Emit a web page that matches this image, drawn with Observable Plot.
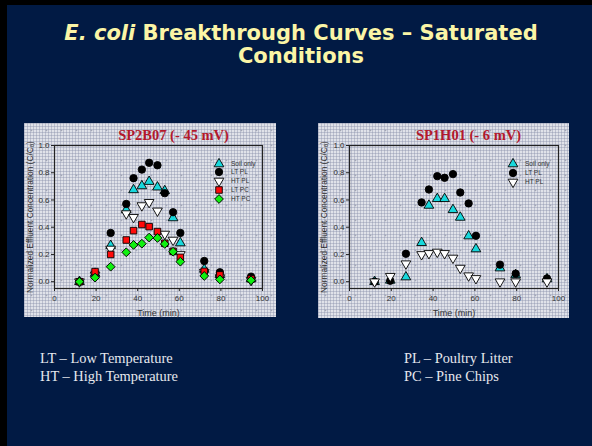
<!DOCTYPE html>
<html><head><meta charset="utf-8">
<script src="https://cdn.jsdelivr.net/npm/d3@7"></script>
<script src="https://cdn.jsdelivr.net/npm/@observablehq/plot@0.6"></script>
<style>
html,body{margin:0;padding:0;background:#000;width:592px;height:446px;overflow:hidden;position:relative;}
#slide{position:absolute;left:7px;top:5px;width:585px;height:441px;background:#011a44;}
#title{position:absolute;left:0;top:22px;width:602px;text-align:center;color:#fbf5a6;font-family:"DejaVu Sans",sans-serif;font-weight:bold;font-size:21px;line-height:23px;}
.panel{position:absolute;background:
 radial-gradient(circle, rgba(100,106,130,.5) 0.7px, transparent 1.1px) 0 0/15px 15px,
 linear-gradient(90deg, rgba(140,146,172,.42) 1px, transparent 1px) 0 0/3px 3px,
 linear-gradient(rgba(140,146,172,.42) 1px, transparent 1px) 0 0/3px 3px,
 #e0e2e9;}
.panel svg{position:absolute;left:0;top:0;overflow:visible;}
.legend{position:absolute;font-family:"Liberation Sans",Arial,sans-serif;font-size:6.5px;color:#333;}
.legend .row{position:absolute;left:0;white-space:nowrap;}
.legend svg{position:absolute;overflow:visible;}
.note{position:absolute;color:#e6e8ee;font-family:"Liberation Serif","DejaVu Serif",serif;font-size:14.4px;line-height:18px;white-space:nowrap;}
</style></head><body>
<div id="slide"></div>
<div id="title"><i>E. coli</i> Breakthrough Curves – Saturated<br>Conditions</div>
<div id="p1" class="panel" style="left:24px;top:123px;width:252px;height:194px;"></div>
<div id="p2" class="panel" style="left:318px;top:123px;width:251px;height:195px;"></div>
<div class="note" style="left:40px;top:349px;">LT – Low Temperature<br>HT – High Temperature</div>
<div class="note" style="left:404px;top:349px;">PL – Poultry Litter<br>PC – Pine Chips</div>
<script>
// ---- data ----
const time = [12, 19.5, 27, 34.5, 38, 42, 45.5, 49.5, 53, 57, 60.5, 72, 79.5, 94.5];

// SP2B07 (- 45 mV)
const soilA = [0, 0.06, 0.265, 0.527, 0.674, 0.703, 0.735, 0.694, 0.667, 0.468, 0.284, 0.09, 0.05, 0.02];
const ltplA = [0, 0.06, 0.358, 0.571, 0.76, 0.823, 0.873, 0.855, 0.65, 0.51, 0.358, 0.152, 0.069, 0.037];
const htplA = [0, 0.05, 0.24, 0.5, 0.473, 0.559, 0.583, 0.52, 0.35, 0.306, 0.2, 0.07, 0.03, 0.01];
const ltpcA = [0, 0.074, 0.2, 0.306, 0.375, 0.42, 0.404, 0.368, 0.282, 0.223, 0.179, 0.076, 0.05, 0.02];
const htpcA = [0, 0.03, 0.11, 0.216, 0.27, 0.279, 0.324, 0.321, 0.277, 0.22, 0.147, 0.042, 0.017, 0.01];

// SP1H01 (- 6 mV)
const soilB = [0, 0.01, 0.034, 0.286, 0.56, 0.609, 0.609, 0.528, 0.472, 0.335, 0.24, 0.1, 0.05, 0.02];
const ltplB = [0, 0.007, 0.205, 0.582, 0.677, 0.775, 0.763, 0.79, 0.655, 0.575, 0.337, 0.125, 0.059, 0.024];
const htplB = [0, 0.04, 0.132, 0.2, 0.208, 0.218, 0.208, 0.174, 0.1, 0.044, 0.024, 0, 0, 0];

const seriesNames = ["Soil only", "LT PL", "HT PL", "LT PC", "HT PC"];
const xTicks = [0, 20, 40, 60, 80, 100];
const yTicks = [0, 0.2, 0.4, 0.6, 0.8, 1.0];
const xLabel = "Time (min)";
const yLabel = "Normalized Effluent Concentration (C/C\u2080)";
const titleA = "SP2B07 (- 45 mV)";
const titleB = "SP1H01 (- 6 mV)";

// ---- styles ----
const styles = {
  "Soil only": {symbol: "triangle", fill: "#18d8dc", r: 3.6, rotate: 0},
  "LT PL": {symbol: "circle", fill: "#000000", r: 3.7, rotate: 0},
  "HT PL": {symbol: "triangle", fill: "#ffffff", r: 3.6, rotate: 180},
  "LT PC": {symbol: "square", fill: "#ff0a0a", r: 3.7, rotate: 0},
  "HT PC": {symbol: "square", fill: "#10f010", r: 3.5, rotate: 45}
};

function rows(name, ys) { return time.map((t, i) => ({t, v: ys[i], s: name})); }

function chart(series, opts) {
  const marks = [
    Plot.frame({stroke: "#222", strokeWidth: 1.2}),
    Plot.axisX({ticks: xTicks, tickSize: 3, tickPadding: 4, stroke: "#222", fill: "#333", fontSize: 8, label: null}),
    Plot.axisY({ticks: yTicks, tickSize: 3, tickPadding: 2, tickFormat: d3.format(".1f"), stroke: "#222", fill: "#333", fontSize: 8, label: null}),
    Plot.text([opts.title], {frameAnchor: "top", text: d => d, dx: opts.tdx, dy: -10, lineAnchor: "middle", textAnchor: "middle", fill: "#b3182c", fontFamily: "Liberation Serif, serif", fontWeight: "bold", fontSize: 14.5}),
    Plot.text([xLabel], {frameAnchor: "bottom", text: d => d, dy: 25, lineAnchor: "middle", textAnchor: "middle", fill: "#333", fontSize: 9, fontFamily: "Liberation Sans, Arial, sans-serif"}),
    Plot.text([yLabel], {frameAnchor: "left", text: d => d, dx: opts.ydx, rotate: -90, lineAnchor: "middle", textAnchor: "middle", fill: "#2a2a2a", fontSize: 8.3, fontFamily: "Liberation Sans, Arial, sans-serif"})
  ];
  for (const [name, ys] of series) {
    const st = styles[name];
    marks.push(Plot.dot(rows(name, ys), {x: "t", y: "v", symbol: () => st.symbol, r: st.r, rotate: st.rotate, fill: st.fill, stroke: "#000", strokeWidth: 0.9}));
  }
  return Plot.plot({
    width: opts.width, height: opts.height,
    marginLeft: opts.ml, marginRight: opts.mr, marginTop: 22, marginBottom: opts.mb,
    style: {background: "transparent", fontFamily: "Liberation Sans, Arial, sans-serif"},
    x: {domain: [0, 100]},
    y: {domain: [-0.05, 1.0]},
    symbol: {type: "identity"},
    marks
  });
}

function legend(names, left, top, textLeft, step) {
  const div = document.createElement("div");
  div.className = "legend";
  div.style.left = left + "px";
  div.style.top = top + "px";
  names.forEach((n, i) => {
    const st = styles[n];
    const sym = {triangle: d3.symbolTriangle, circle: d3.symbolCircle, square: d3.symbolSquare}[st.symbol];
    const path = d3.symbol(sym, Math.PI * st.r * st.r)();
    const svg = d3.create("svg").attr("width", 1).attr("height", 1)
      .style("left", "0px").style("top", (i * step) + "px");
    svg.append("path").attr("d", path).attr("fill", st.fill).attr("stroke", "#000").attr("stroke-width", 0.9)
      .attr("transform", `rotate(${st.rotate})`);
    div.appendChild(svg.node());
    const t = document.createElement("div");
    t.className = "row";
    t.textContent = n;
    t.style.left = textLeft + "px";
    t.style.top = (i * step - 4) + "px";
    div.appendChild(t);
  });
  document.body.appendChild(div);
}

document.getElementById("p1").appendChild(chart(
  [["Soil only", soilA], ["LT PL", ltplA], ["HT PL", htplA], ["LT PC", ltpcA], ["HT PC", htpcA]],
  {title: titleA, width: 252, height: 194, ml: 30, mr: 14, mb: 29, tdx: 15, ydx: -24}
));
document.getElementById("p2").appendChild(chart(
  [["Soil only", soilB], ["LT PL", ltplB], ["HT PL", htplB]],
  {title: titleB, width: 251, height: 195, ml: 31, mr: 11, mb: 30, tdx: 14.5, ydx: -25}
));
legend(seriesNames, 219, 163.7, 12, 8.8);
legend(seriesNames.slice(0, 3), 513, 164, 12, 9);
</script>
</body></html>
